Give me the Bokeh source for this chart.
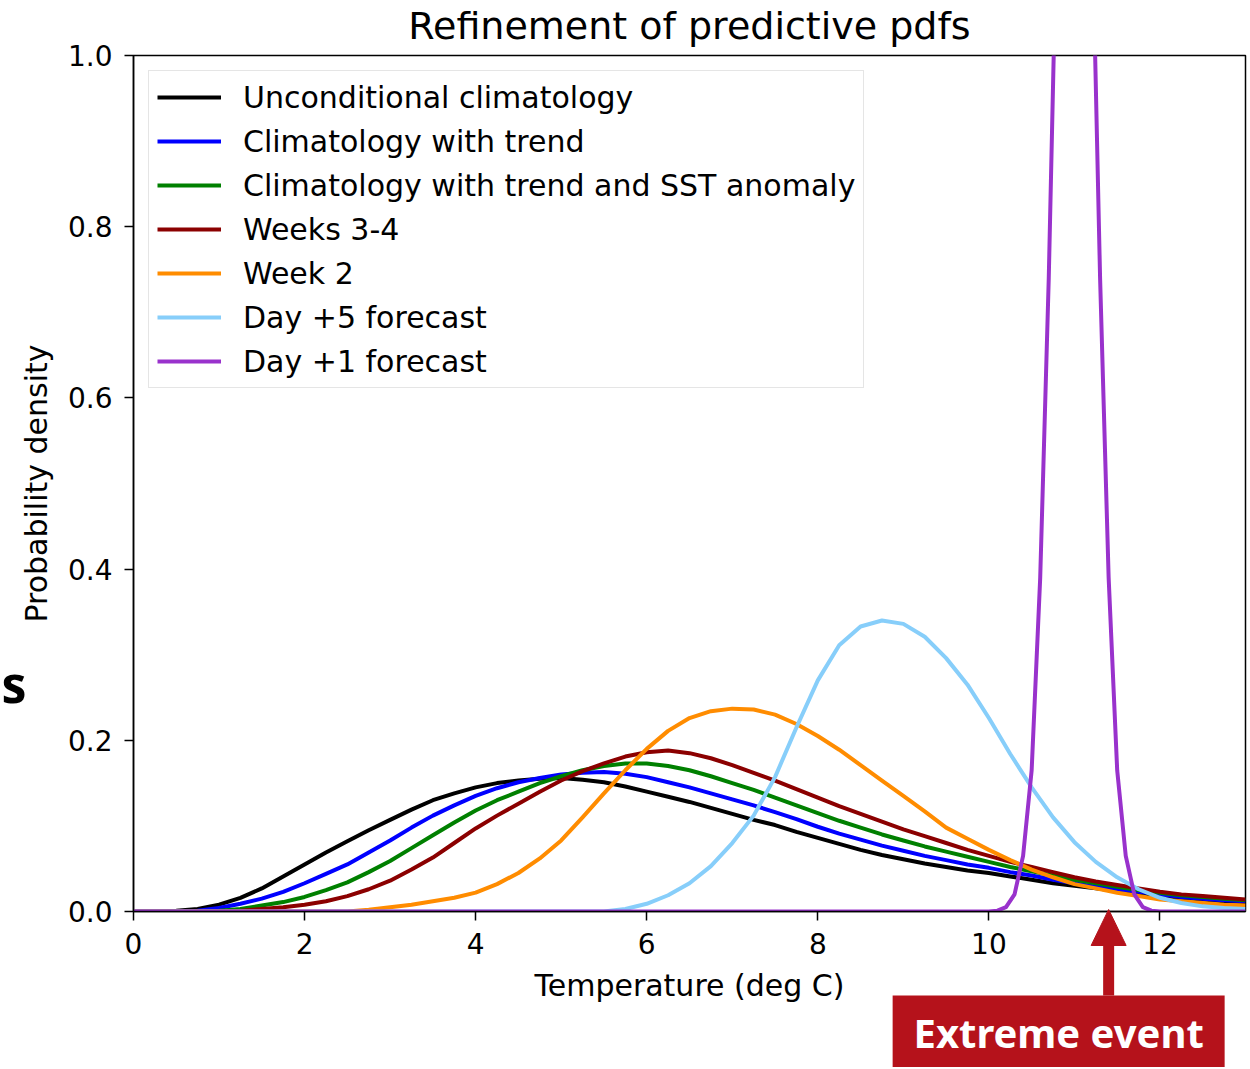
from bokeh.plotting import figure
from bokeh.models import (Range1d, FixedTicker, PrintfTickFormatter, GridBox,
                          Title)
from bokeh.core.properties import value
from bokeh.embed import file_html
from bokeh.resources import INLINE

# ---------------- data ----------------
series_names = [
    "Unconditional climatology",
    "Climatology with trend",
    "Climatology with trend and SST anomaly",
    "Weeks 3-4",
    "Week 2",
    "Day +5 forecast",
    "Day +1 forecast",
]
series_colors = ["black", "#0000ff", "#008000", "#8b0000", "#ff8c00",
                 "#87cefa", "#9932cc"]

# temperature grid (deg C) for the broad pdfs
temp_grid = [0.0, 0.25, 0.5, 0.75, 1.0, 1.25, 1.5, 1.75, 2.0, 2.25, 2.5, 2.75,
             3.0, 3.25, 3.5, 3.75, 4.0, 4.25, 4.5, 4.75, 5.0, 5.25, 5.5, 5.75,
             6.0, 6.25, 6.5, 6.75, 7.0, 7.25, 7.5, 7.75, 8.0, 8.25, 8.5, 8.75,
             9.0, 9.25, 9.5, 9.75, 10.0, 10.25, 10.5, 10.75, 11.0, 11.25,
             11.5, 11.75, 12.0, 12.25, 12.5, 12.75, 13.0]

pdf_unconditional = [0.000, 0.000, 0.001, 0.003, 0.008, 0.016, 0.027, 0.041,
                     0.055, 0.069, 0.082, 0.095, 0.107, 0.119, 0.130, 0.138,
                     0.145, 0.150, 0.153, 0.155, 0.156, 0.154, 0.151, 0.146,
                     0.140, 0.134, 0.128, 0.121, 0.114, 0.107, 0.101, 0.093,
                     0.086, 0.079, 0.072, 0.066, 0.061, 0.056, 0.052, 0.048,
                     0.045, 0.041, 0.037, 0.033, 0.030, 0.027, 0.024, 0.021,
                     0.018, 0.016, 0.014, 0.012, 0.011]
pdf_trend = [0.000, 0.000, 0.000, 0.001, 0.004, 0.009, 0.015, 0.023, 0.033,
             0.044, 0.055, 0.069, 0.083, 0.098, 0.112, 0.124, 0.135, 0.144,
             0.151, 0.156, 0.160, 0.162, 0.163, 0.161, 0.157, 0.151, 0.145,
             0.138, 0.131, 0.124, 0.116, 0.108, 0.099, 0.091, 0.084, 0.077,
             0.071, 0.065, 0.060, 0.055, 0.051, 0.046, 0.042, 0.037, 0.033,
             0.029, 0.026, 0.023, 0.020, 0.017, 0.015, 0.013, 0.012]
pdf_trend_sst = [0.000, 0.000, 0.000, 0.000, 0.001, 0.003, 0.007, 0.011,
                 0.017, 0.025, 0.034, 0.046, 0.059, 0.074, 0.089, 0.104,
                 0.118, 0.130, 0.140, 0.150, 0.158, 0.165, 0.170, 0.173,
                 0.173, 0.170, 0.165, 0.158, 0.150, 0.142, 0.133, 0.124,
                 0.115, 0.106, 0.098, 0.090, 0.083, 0.076, 0.070, 0.064,
                 0.058, 0.052, 0.047, 0.042, 0.037, 0.033, 0.029, 0.025,
                 0.022, 0.019, 0.017, 0.015, 0.013]
pdf_weeks34 = [0.000, 0.000, 0.000, 0.000, 0.000, 0.001, 0.003, 0.005, 0.008,
               0.012, 0.018, 0.026, 0.036, 0.049, 0.063, 0.080, 0.097, 0.112,
               0.126, 0.140, 0.153, 0.164, 0.173, 0.181, 0.186, 0.188, 0.185,
               0.179, 0.171, 0.162, 0.153, 0.143, 0.133, 0.123, 0.114, 0.105,
               0.096, 0.088, 0.080, 0.072, 0.065, 0.058, 0.052, 0.046, 0.040,
               0.035, 0.031, 0.027, 0.023, 0.020, 0.018, 0.016, 0.014]
pdf_week2 = [0.000, 0.000, 0.000, 0.000, 0.000, 0.000, 0.000, 0.000, 0.000,
             0.000, 0.000, 0.002, 0.005, 0.008, 0.012, 0.016, 0.022, 0.032,
             0.045, 0.062, 0.083, 0.110, 0.138, 0.165, 0.190, 0.211, 0.226,
             0.234, 0.237, 0.236, 0.230, 0.219, 0.205, 0.189, 0.171, 0.153,
             0.135, 0.117, 0.098, 0.085, 0.072, 0.060, 0.049, 0.040, 0.032,
             0.027, 0.022, 0.018, 0.014, 0.012, 0.010, 0.008, 0.007]

# finer grid for the sharper day +5 pdf
temp_day5 = [0.0, 5.5, 5.75, 6.0, 6.25, 6.5, 6.75, 7.0, 7.25, 7.5, 7.75, 8.0,
             8.25, 8.5, 8.75, 9.0, 9.25, 9.5, 9.75, 10.0, 10.25, 10.5, 10.75,
             11.0, 11.25, 11.5, 11.75, 12.0, 12.25, 12.5, 12.75, 13.0]
pdf_day5 = [0.000, 0.000, 0.003, 0.009, 0.019, 0.033, 0.053, 0.080, 0.112,
            0.157, 0.215, 0.270, 0.311, 0.333, 0.340, 0.336, 0.321, 0.296,
            0.265, 0.226, 0.184, 0.145, 0.110, 0.081, 0.058, 0.040, 0.026,
            0.016, 0.010, 0.006, 0.004, 0.003]

# very fine grid for the day +1 pdf (its peak runs off the top of the plot)
temp_day1 = [0.0, 10.0, 10.1, 10.2, 10.3, 10.4, 10.5, 10.6, 10.7, 10.8, 10.9,
             11.0, 11.1, 11.2, 11.3, 11.4, 11.5, 11.6, 11.7, 11.8, 11.9, 12.0,
             13.0]
pdf_day1 = [0.000, 0.000, 0.001, 0.005, 0.020, 0.065, 0.165, 0.390, 0.740,
            1.190, 1.580, 1.740, 1.580, 1.190, 0.740, 0.390, 0.165, 0.065,
            0.020, 0.005, 0.001, 0.000, 0.000]

x_ticks = [0, 2, 4, 6, 8, 10, 12]
y_ticks = [0.0, 0.2, 0.4, 0.6, 0.8, 1.0]
x_limits = (0, 13)
y_limits = (0.0, 1.0)

title_text = "Refinement of predictive pdfs"
extreme_event_temp = 11.4
extreme_event_text = "Extreme event"
slide_fragment_text = "s"

# ---------------- layout constants (pixels) ----------------
W, H = 1248, 1067
FL, FR, FT, FB = 133, 1245, 55, 911      # plot frame edges on the canvas
FONT = "DejaVu Sans"
RED = "#b5121b"

p = figure(width=W, height=H, output_backend="svg", toolbar_location=None,
           x_range=Range1d(*x_limits), y_range=Range1d(*y_limits),
           min_border_left=FL, min_border_right=W - FR, min_border_top=FT,
           min_border_bottom=H - FB)
p.frame_align = False

# small spacer next to the frame, then the real title above it
p.add_layout(Title(text=" ", text_font=FONT, text_font_size="4px",
                   standoff=0), "above")
p.add_layout(Title(text=title_text, align="center", text_font=FONT,
                   text_font_size="38px", text_font_style="normal",
                   text_color="black", standoff=2), "above")

xs_all = [temp_grid] * 5 + [temp_day5, temp_day1]
ys_all = [pdf_unconditional, pdf_trend, pdf_trend_sst, pdf_weeks34,
          pdf_week2, pdf_day5, pdf_day1]

for xs, ys, name, col in zip(xs_all, ys_all, series_names, series_colors):
    p.line(xs, ys, line_color=col, line_width=4, legend_label=name,
           line_join="round")

for ax in (p.xaxis, p.yaxis):
    ax.axis_line_color = "black"
    ax.axis_line_width = 1.5
    ax.major_tick_line_color = "black"
    ax.major_tick_line_width = 1.5
    ax.major_tick_in = 0
    ax.major_tick_out = 9
    ax.minor_tick_line_color = None
    ax.major_label_text_font = FONT
    ax.major_label_text_font_size = "28px"
    ax.major_label_text_color = "black"
    ax.axis_label_text_font = FONT
    ax.axis_label_text_font_size = "30px"
    ax.axis_label_text_font_style = "normal"
    ax.axis_label_text_color = "black"

p.xaxis.ticker = FixedTicker(ticks=x_ticks)
p.yaxis.ticker = FixedTicker(ticks=y_ticks)
p.yaxis.formatter = PrintfTickFormatter(format="%.1f")
p.xaxis.axis_label = "Temperature (deg C)"
p.yaxis.axis_label = "Probability density"
p.xaxis.major_label_standoff = 12
p.yaxis.major_label_standoff = 12
p.xaxis.axis_label_standoff = 11
p.yaxis.axis_label_standoff = 11

p.xgrid.visible = False
p.ygrid.visible = False
p.outline_line_color = "black"
p.outline_line_width = 1.5
p.outline_line_alpha = 1.0
p.background_fill_color = "white"
p.border_fill_color = "white"

lg = p.legend[0]
lg.location = "top_left"
lg.margin = 15
lg.padding = 8
lg.spacing = 8
lg.glyph_width = 64
lg.glyph_height = 36
lg.label_height = 36
lg.label_standoff = 22
lg.label_text_font = FONT
lg.label_text_font_size = "30px"
lg.label_text_color = "black"
lg.border_line_color = "#cccccc"
lg.border_line_width = 1.5
lg.background_fill_alpha = 0.8

# ---------------- transparent overlay for the marks outside the axes ----------------
dx = (x_limits[1] - x_limits[0]) / (FR - FL)   # data units per pixel
dy = (y_limits[1] - y_limits[0]) / (FB - FT)
ov = figure(width=W, height=H, output_backend="svg", toolbar_location=None,
            x_range=Range1d(x_limits[0] - FL * dx, x_limits[1] + (W - FR) * dx),
            y_range=Range1d(y_limits[0] - (H - FB) * dy, y_limits[1] + FT * dy),
            x_axis_location=None, y_axis_location=None,
            min_border_left=0, min_border_right=0, min_border_top=0,
            min_border_bottom=0)
ov.frame_align = False
ov.background_fill_color = None
ov.border_fill_color = None
ov.outline_line_color = None
ov.grid.visible = False

# arrow pointing at the extreme event temperature
tip_y = y_limits[0] + 2 * dy
head_base_y = y_limits[0] - 34 * dy
box_top_y = y_limits[0] - 84 * dy
ov.segment(x0=[extreme_event_temp], y0=[box_top_y], x1=[extreme_event_temp],
           y1=[head_base_y + 4 * dy], line_color=RED, line_width=11)
ov.patch(x=[extreme_event_temp - 17.5 * dx, extreme_event_temp,
            extreme_event_temp + 17.5 * dx],
         y=[head_base_y, tip_y, head_base_y],
         fill_color=RED, line_color=RED, line_width=1)

# red box with the label
box_cx = extreme_event_temp - 50 * dx
ov.quad(left=[box_cx - 166 * dx], right=[box_cx + 166 * dx],
        top=[box_top_y], bottom=[ov.y_range.start], fill_color=RED,
        line_color=None)
ov.text(x=[box_cx], y=[y_limits[0] - 121 * dy], text=[extreme_event_text],
        text_align="center", text_baseline="alphabetic",
        text_font=value("Noto Sans"), text_font_style="bold",
        text_font_size="40px", text_color="white")

# fragment of slide text at the left edge
ov.text(x=[x_limits[0] - (FL - 1) * dx], y=[y_limits[0] + (FB - 683) * dy],
        text=[slide_fragment_text], text_align="left",
        text_baseline="alphabetic", text_font=value("Noto Sans"),
        text_font_style="bold", text_font_size="50px", text_color="black")

layout = GridBox(children=[(p, 0, 0), (ov, 0, 0)])
open("out.html", "w").write(file_html(layout, INLINE))
